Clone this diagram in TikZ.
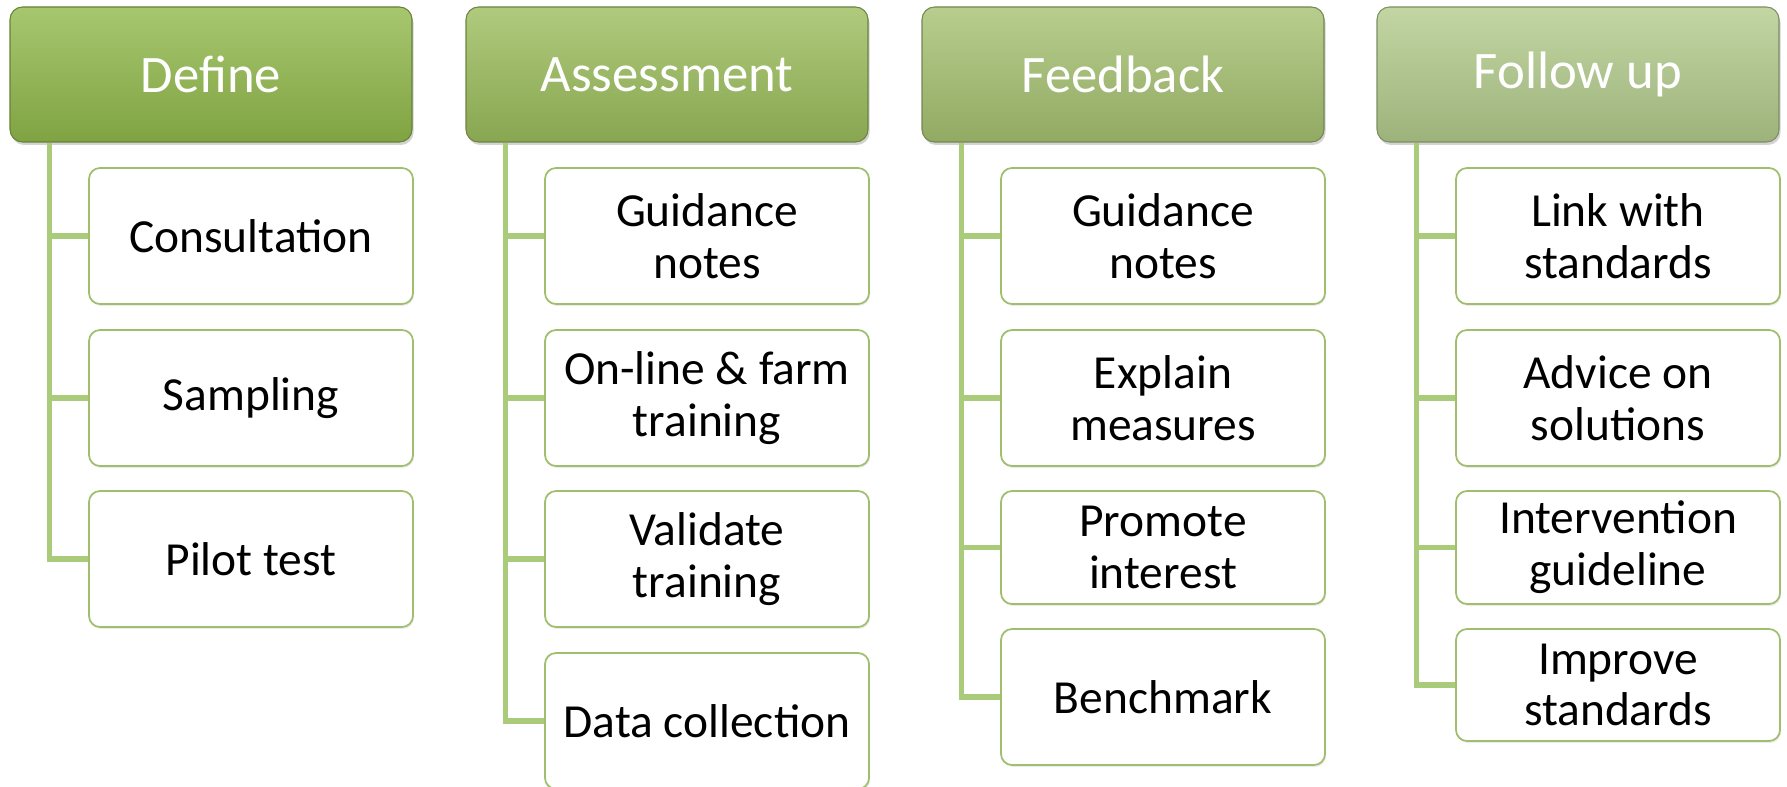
\documentclass[tikz,border=0pt]{standalone}
\usepackage{fontspec}
\setmainfont{Carlito}
\usetikzlibrary{shadows}
\definecolor{definec}{RGB}{145,185,75}
\definecolor{assessc}{RGB}{155,189,92}
\definecolor{feedc}{RGB}{166,193,113}
\definecolor{followc}{RGB}{179,203,140}
\definecolor{boxline}{RGB}{160,190,110}
\definecolor{linkgreen}{RGB}{170,203,122}
\begin{document}
\begin{tikzpicture}[
	topbox/.style={draw=#1!70!black, line width=0.6pt, rounded corners=0.25cm, top color=#1!80!white, bottom color=#1!88!black, minimum width=8.04cm, minimum height=2.7cm, text=white, font=\fontsize{30}{36}\selectfont, drop shadow={opacity=0.35, shadow xshift=0.03cm, shadow yshift=-0.06cm}},
	subbox/.style={draw=boxline, line width=1pt, rounded corners=0.22cm, fill=white, minimum width=6.48cm, minimum height=2.72cm, align=center, font=\fontsize{27}{29.5}\selectfont, drop shadow={opacity=0.15, shadow xshift=0.02cm, shadow yshift=-0.04cm}},
	link/.style={draw=linkgreen, line width=3.2pt}
]
	\useasboundingbox (0,0) rectangle (35.74,-15.74);
	\node[topbox=definec] (define) at (4.22,-1.49) {Define};
	\node[topbox=assessc] (assess) at (13.34,-1.49) {Assessment};
	\node[topbox=feedc] (feed) at (22.46,-1.49) {Feedback};
	\node[topbox=followc] (follow) at (31.56,-1.49) {Follow up};
	\node[subbox] (consult) at (5.02,-4.72) {Consultation};
	\node[subbox] (sampling) at (5.02,-7.96) {Sampling};
	\node[subbox] (pilot) at (5.02,-11.18) {Pilot test};
	\node[subbox] (guideA) at (14.14,-4.72) {Guidance\\notes};
	\node[subbox] (online) at (14.14,-7.96) {On-line \& farm\\training};
	\node[subbox] (validate) at (14.14,-11.18) {Validate\\training};
	\node[subbox] (datacoll) at (14.14,-14.42) {Data collection};
	\node[subbox] (guideF) at (23.26,-4.72) {Guidance\\notes};
	\node[subbox] (explain) at (23.26,-7.96) {Explain\\measures};
	\node[subbox, minimum height=2.26cm] (promote) at (23.26,-10.95) {Promote\\interest};
	\node[subbox] (bench) at (23.26,-13.94) {Benchmark};
	\node[subbox] (linkstd) at (32.36,-4.72) {Link with\\standards};
	\node[subbox] (advice) at (32.36,-7.96) {Advice on\\solutions};
	\node[subbox, minimum height=2.26cm] (interv) at (32.36,-10.95) {Intervention\\guideline};
	\node[subbox, minimum height=2.24cm] (improve) at (32.36,-13.70) {Improve\\standards};
	\coordinate (spineD) at ([xshift=0.8cm]define.south west);
	\coordinate (spineA) at ([xshift=0.8cm]assess.south west);
	\coordinate (spineF) at ([xshift=0.8cm]feed.south west);
	\coordinate (spineU) at ([xshift=0.8cm]follow.south west);
	\draw[link] (spineD) |- (pilot.west);
	\draw[link] (consult.west) -- (consult.west -| spineD);
	\draw[link] (sampling.west) -- (sampling.west -| spineD);
	\draw[link] (spineA) |- (datacoll.west);
	\draw[link] (guideA.west) -- (guideA.west -| spineA);
	\draw[link] (online.west) -- (online.west -| spineA);
	\draw[link] (validate.west) -- (validate.west -| spineA);
	\draw[link] (spineF) |- (bench.west);
	\draw[link] (guideF.west) -- (guideF.west -| spineF);
	\draw[link] (explain.west) -- (explain.west -| spineF);
	\draw[link] (promote.west) -- (promote.west -| spineF);
	\draw[link] (spineU) |- (improve.west);
	\draw[link] (linkstd.west) -- (linkstd.west -| spineU);
	\draw[link] (advice.west) -- (advice.west -| spineU);
	\draw[link] (interv.west) -- (interv.west -| spineU);
\end{tikzpicture}
\end{document}
